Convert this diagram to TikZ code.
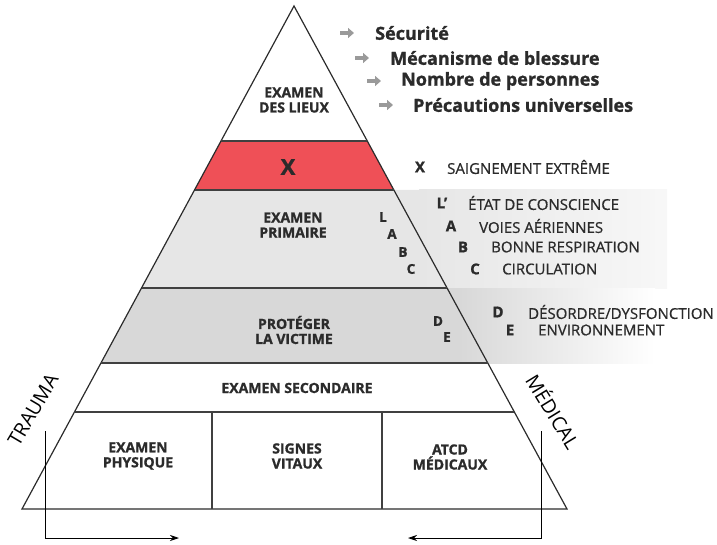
\documentclass[tikz,border=0pt]{standalone}
\usepackage{fontspec}
\setmainfont{Open Sans}[BoldFeatures={FakeBold=1.2}]
\newfontfamily\semi{Open Sans}[FakeBold=0.7]
\usetikzlibrary{arrows.meta,calc}
\definecolor{redband}{HTML}{EF5057}
\definecolor{grayone}{HTML}{E6E6E6}
\definecolor{graytwo}{HTML}{D8D8D8}
\definecolor{txt}{HTML}{2B2B2B}
\definecolor{arrowgray}{HTML}{9A9A9A}
\tikzset{
  lvl/.style={font=\bfseries\fontsize{14}{15}\selectfont, text=txt, align=center, inner sep=0pt},
  letter/.style={font=\bfseries\fontsize{13.5}{14}\selectfont, text=txt, inner sep=0pt},
  rletter/.style={font=\bfseries\fontsize{15}{16}\selectfont, text=txt, inner sep=0pt},
  rtext/.style={font=\semi\fontsize{15}{16}\selectfont, text=txt, anchor=west, inner sep=0pt},
  toptext/.style={font=\bfseries\fontsize{18}{19}\selectfont, text=txt, anchor=west, inner sep=0pt},
  garrow/.style={draw=arrowgray, line width=3.2pt, -{Triangle[length=6pt,width=10pt]}},
  edge/.style={line width=1.2pt, draw=txt},
  sep/.style={line width=1.6pt, draw=txt!90},
  side/.style={font=\fontsize{19.5}{20}\selectfont, text=black, inner sep=0pt},
  flow/.style={line width=0.8pt, draw=black, -{Stealth[length=9pt,width=6pt]}}
}
\begin{document}
\begin{tikzpicture}[x=1pt,y=-1pt]
\useasboundingbox (0,0) rectangle (717,545);
% bands
\fill[grayone] (194.5,190) -- (420,190) -- (420,288) -- (141.5,288) -- cycle;
\shade[left color=grayone, right color=white!97!black] (419,190) rectangle (667,288);
\fill[graytwo] (141.5,288) -- (460,288) -- (460,363) -- (100.9,363) -- cycle;
\shade[left color=graytwo, right color=white] (459,288) rectangle (655,363);
\fill[redband] (221,141) -- (367.3,141) -- (393.9,190) -- (194.5,190) -- cycle;
% triangle
\coordinate (apex) at (294,6);
\coordinate (bl) at (22,509);
\coordinate (br) at (567,509);
\draw[edge, line join=miter] (bl) -- (apex) -- (br) -- cycle;
% separators
\draw[sep] (221,141) -- (367.3,141);
\draw[sep] (194.5,190) -- (393.9,190);
\draw[sep] (141.5,288) -- (447,288);
\draw[sep] (100.9,363) -- (487.7,363);
\draw[sep] (74.4,412) -- (514.3,412);
\draw[sep] (212,412) -- (212,509);
\draw[sep] (382,412) -- (382,509);
% pyramid labels
\node[lvl] (lieux) at (294,100) {EXAMEN\\DES LIEUX};
\node[font=\bfseries\fontsize{22}{23}\selectfont, text=txt, inner sep=0pt] (x) at (288,167) {X};
\node[lvl] (prim) at (293,225) {EXAMEN\\PRIMAIRE};
\node[letter] (lL) at (383,217) {L};
\node[letter] (lA) at (392,234) {A};
\node[letter] (lB) at (403,252) {B};
\node[letter] (lC) at (411,269) {C};
\node[lvl] (prot) at (294,330) {PROTÉGER\\LA VICTIME};
\node[letter] (lD) at (438,321) {D};
\node[letter] (lE) at (447,337) {E};
\node[lvl] (sec) at (297,388) {EXAMEN SECONDAIRE};
\node[lvl] (phys) at (138,456) {EXAMEN\\PHYSIQUE};
\node[lvl] (vit) at (297,456) {SIGNES\\VITAUX};
\node[lvl] (atcd) at (450,457) {ATCD\\MÉDICAUX};
% top list arrows
\coordinate (a1s) at (340,33); \coordinate (a1e) at (354,33);
\coordinate (a2s) at (355,58); \coordinate (a2e) at (369,58);
\coordinate (a3s) at (367,81); \coordinate (a3e) at (381,81);
\coordinate (a4s) at (379,105); \coordinate (a4e) at (393,105);
\draw[garrow] (a1s) -- (a1e);
\draw[garrow] (a2s) -- (a2e);
\draw[garrow] (a3s) -- (a3e);
\draw[garrow] (a4s) -- (a4e);
\node[toptext] (t1) at (375,33) {Sécurité};
\node[toptext] (t2) at (390,58) {Mécanisme de blessure};
\node[toptext] (t3) at (401,81) {Nombre de personnes};
\node[toptext] (t4) at (413,105) {Précautions universelles};
% right list
\node[rletter] (rX) at (420,167) {X};
\node[rtext] (tX) at (447,167) {SAIGNEMENT EXTRÊME};
\node[rletter] (rL) at (442,203) {L’};
\node[rtext] (tL) at (468,203) {ÉTAT DE CONSCIENCE};
\node[rletter] (rA) at (451,226) {A};
\node[rtext] (tA) at (479,226) {VOIES AÉRIENNES};
\node[rletter] (rB) at (463,247) {B};
\node[rtext] (tB) at (491,247) {BONNE RESPIRATION};
\node[rletter] (rC) at (475,269) {C};
\node[rtext] (tC) at (502,269) {CIRCULATION};
\node[rletter] (rD) at (498,312) {D};
\node[rtext] (tD) at (528,312) {DÉSORDRE/DYSFONCTION};
\node[rletter] (rE) at (510,330) {E};
\node[rtext] (tE) at (538,330) {ENVIRONNEMENT};
% side labels
\node[side, rotate=59.5] (trauma) at (33,410) {TRAUMA};
\node[side, rotate=-58.5] (medical) at (554,411) {MÉDICAL};
% bottom flow arrows
\coordinate (ls) at (45,431);
\coordinate (lc) at (45,538);
\coordinate (le) at (179,538);
\coordinate (rs) at (541,431);
\coordinate (rc) at (541,538);
\coordinate (re) at (408,538);
\draw[flow] (ls) -- (lc) -- (le);
\draw[flow] (rs) -- (rc) -- (re);
\end{tikzpicture}
\end{document}
